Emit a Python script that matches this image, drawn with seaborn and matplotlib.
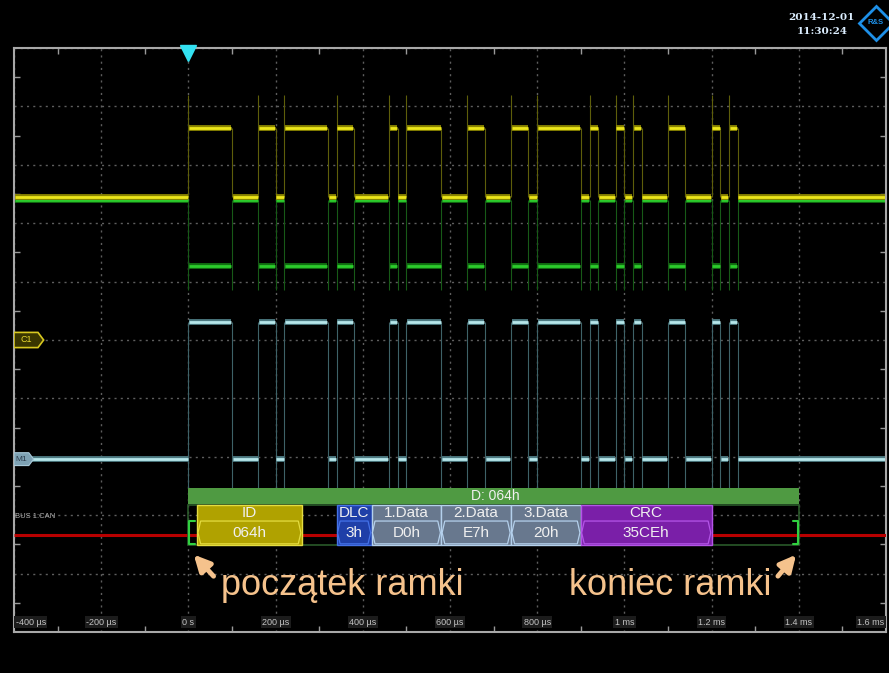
import matplotlib
matplotlib.use("Agg")
import matplotlib.pyplot as plt
from matplotlib.patches import Rectangle, Polygon
from matplotlib.lines import Line2D
import seaborn as sns
import pandas as pd

# dominant bit intervals on the bus (µs from trigger)
dom_start = [0, 160, 220, 340, 460, 500, 640, 740, 800, 920, 980, 1020, 1100, 1200, 1240]
dom_end = [100, 200, 320, 380, 480, 580, 680, 780, 900, 940, 1000, 1040, 1140, 1220, 1260]

t_min, t_max = -400, 1600
tick_us = [-400, -200, 0, 200, 400, 600, 800, 1000, 1200, 1400, 1600]
tick_labels = ['-400 µs', '-200 µs', '0 s', '200 µs', '400 µs', '600 µs',
               '800 µs', '1 ms', '1.2 ms', '1.4 ms', '1.6 ms']

# trace levels in screen divisions: (recessive, dominant)
can_h = (7.45, 8.63)
can_l = (7.40, 6.27)
diff_m1 = (2.96, 5.31)

# decoded CAN fields
field_names = ['ID', 'DLC', '1.Data', '2.Data', '3.Data', 'CRC']
field_values = ['064h', '3h', 'D0h', 'E7h', '20h', '35CEh']
field_start = [20, 340, 420, 580, 740, 900]
field_end = [260, 420, 580, 740, 900, 1200]
field_fill = ['#b0a200', '#1f3fa8', '#68788e', '#68788e', '#68788e', '#7a1fa8']
field_edge = ['#e4dc40', '#4472e8', '#b4d0ec', '#b4d0ec', '#b4d0ec', '#b455e8']
frame_start, frame_end = 0, 1400
frame_label = 'D: 064h'

PEACH = '#f5c28c'


def level_segments(levels):
    edges = [t_min]
    for s, e in zip(dom_start, dom_end):
        edges += [s, e]
    edges.append(t_max)
    rows = []
    for i in range(len(edges) - 1):
        lvl = levels[i % 2]
        rows.append((i, edges[i] + 1.5, lvl))
        rows.append((i, edges[i + 1] - 1.5, lvl))
    return pd.DataFrame(rows, columns=['seg', 't', 'v'])


sns.set_theme(style='dark', rc={'figure.facecolor': 'black', 'axes.facecolor': 'black'})
plt.rcParams['font.family'] = ['Liberation Sans', 'DejaVu Sans']

fig = plt.figure(figsize=(8.89, 6.73), dpi=100)
ax = fig.add_axes([14 / 889, 41 / 673, 872 / 889, 584 / 673])
ax.set_facecolor('black')
ax.set_xlim(t_min, t_max)
ax.set_ylim(0, 10)

# grid
ax.set_xticks(tick_us)
ax.set_yticks(range(11))
ax.set_xticks([t + 100 for t in tick_us[:-1]], minor=True)
ax.set_yticks([y + 0.5 for y in range(10)], minor=True)
ax.grid(True, which='major', color='#5e5e5e', linestyle=(0, (1.5, 3)), linewidth=1)
ax.tick_params(which='major', length=0, labelbottom=False, labelleft=False)
ax.tick_params(which='minor', direction='in', length=4, color='#9a9a9a', width=1,
               top=True, right=True, bottom=True, left=True)
for sp in ax.spines.values():
    sp.set_color('#a8a8a8')
    sp.set_linewidth(1.5)

# edges (thin vertical lines with overshoot)
ax.vlines(dom_start, can_h[0], 9.2, color='#5e5e0a', lw=0.8)
ax.vlines(dom_end, can_h[0], can_h[1], color='#5e5e0a', lw=0.8)
ax.vlines(dom_start + dom_end, 5.85, can_l[0], color='#175a17', lw=0.8)
ax.vlines(dom_start + dom_end, 2.45, diff_m1[1], color='#3e6268', lw=0.8)

# traces
traces = [(can_l, '#117011', '#2ccc2c'), (can_h, '#8a8400', '#ece61a'),
          (diff_m1, '#4d7a82', '#b6e6ea')]
for levels, dark, bright in traces:
    df = level_segments(levels)
    sns.lineplot(data=df, x='t', y='v', units='seg', estimator=None, color=dark,
                 lw=4.2, legend=False, ax=ax, solid_capstyle='butt')
    sns.lineplot(data=df, x='t', y='v', units='seg', estimator=None, color=bright,
                 lw=2.0, legend=False, ax=ax, solid_capstyle='butt')
ax.set_xlabel('')
ax.set_ylabel('')

# trigger marker
ax.plot(0, 9.91, marker='v', ms=11, color='#33e2f2', clip_on=False, zorder=6)

# channel markers
ax.add_patch(Polygon([(-400, 5.13), (-345, 5.13), (-332, 5.0), (-345, 4.87), (-400, 4.87)],
                     closed=True, fc='#3a3600', ec='#d8c820', lw=1.2, zorder=5))
ax.text(-372, 5.0, 'C1', color='#e6d830', fontsize=6.5, ha='center', va='center', zorder=6)
ax.add_patch(Polygon([(-400, 3.07), (-366, 3.07), (-355, 2.96), (-366, 2.85), (-400, 2.85)],
                     closed=True, fc='#7ea2b4', ec='#a8c8d8', lw=0.8, zorder=5))
ax.text(-383, 2.96, 'M1', color='#2c3c4c', fontsize=6, ha='center', va='center', zorder=6)
ax.text(-398, 1.97, 'BUS 1:CAN', color='#b0b0b0', fontsize=5.5, ha='left', va='center')

# bus decode
ax.hlines(1.66, t_min, t_max, color='#b80000', lw=2.2, zorder=3)
ax.add_patch(Rectangle((frame_start, 2.19), frame_end - frame_start, 0.28,
                       fc='#4f9a42', ec='none', zorder=4))
ax.text(705, 2.33, frame_label, color='#f0f0f0', fontsize=10, ha='center', va='center', zorder=5)
ax.add_patch(Rectangle((frame_start, 1.49), frame_end - frame_start, 0.68,
                       fc='none', ec='#2a5a2a', lw=1.2, zorder=3))
for name, val, s, e, fc, ec in zip(field_names, field_values, field_start, field_end,
                                   field_fill, field_edge):
    ax.add_patch(Rectangle((s, 1.49), e - s, 0.68, fc=fc, ec=ec, lw=1.0, zorder=4))
    ins = 8
    ax.add_patch(Polygon([(s + 2, 1.70), (s + ins, 1.90), (e - ins, 1.90), (e - 2, 1.70),
                          (e - ins, 1.51), (s + ins, 1.51)], closed=True,
                         fc=fc, ec=ec, lw=0.9, zorder=4))
    ax.text((s + e) / 2, 2.04, name, color='#f0f0f0', fontsize=11, ha='center',
            va='center', zorder=5)
    ax.text((s + e) / 2, 1.70, val, color='#f0f0f0', fontsize=11, ha='center',
            va='center', zorder=5)
ax.plot([frame_start + 14, frame_start + 2, frame_start + 2, frame_start + 14],
        [1.90, 1.90, 1.51, 1.51], color='#30d040', lw=1.5, zorder=5)
ax.plot([frame_end - 14, frame_end - 2, frame_end - 2, frame_end - 14],
        [1.90, 1.90, 1.51, 1.51], color='#30d040', lw=1.5, zorder=5)

# time labels along the bottom
for t, lab in zip(tick_us, tick_labels):
    ha = 'left' if t == t_min else ('right' if t == t_max else 'center')
    x = t + 4 if t == t_min else (t - 4 if t == t_max else t)
    ax.text(x, 0.17, lab, color='#c4c4c4', fontsize=6.5, ha=ha, va='center',
            bbox=dict(boxstyle='square,pad=0.15', fc='#1c1c1c', ec='none'))

# annotations
ax.text(75, 0.80, 'początek ramki', color=PEACH, fontsize=26, ha='left', va='center')
ax.text(872, 0.80, 'koniec ramki', color=PEACH, fontsize=26, ha='left', va='center')
ax.annotate('', xy=(8, 1.36), xytext=(62, 0.92),
            arrowprops=dict(arrowstyle='-|>', color=PEACH, lw=3.5, mutation_scale=24))
ax.annotate('', xy=(1398, 1.36), xytext=(1348, 0.92),
            arrowprops=dict(arrowstyle='-|>', color=PEACH, lw=3.5, mutation_scale=24))

# timestamp and logo
fig.text(821 / 889, 1 - 17 / 673, '2014-12-01', color='#dceeff', fontsize=7.5,
         fontweight='bold', ha='center', va='center', family='DejaVu Serif')
fig.text(822 / 889, 1 - 31 / 673, '11:30:24', color='#dceeff', fontsize=7.5,
         fontweight='bold', ha='center', va='center', family='DejaVu Serif')
fig.add_artist(Line2D([876 / 889], [1 - 23 / 673], marker='D', ms=17, mfc='none',
                      mec='#1e90e8', mew=2, transform=fig.transFigure))
fig.text(876 / 889, 1 - 23 / 673, 'R&S', color='#1e90e8', fontsize=5.5,
         fontweight='bold', ha='center', va='center')

fig.savefig('out.png', dpi=100, facecolor='black')
